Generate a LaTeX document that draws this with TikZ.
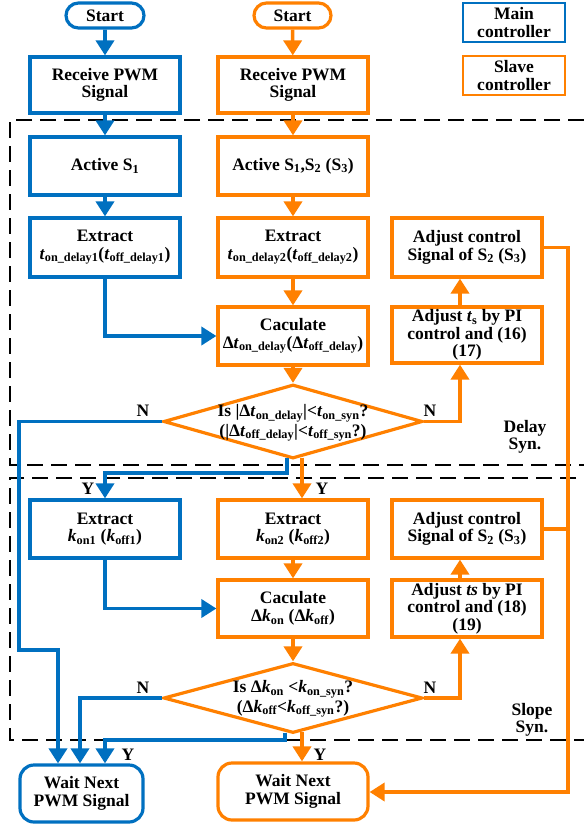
\documentclass[tikz,border=0pt]{standalone}
\usepackage{fontspec}
\setmainfont{Liberation Serif}
\usetikzlibrary{arrows.meta,shapes.geometric,shapes.misc}
\definecolor{mblue}{RGB}{0,112,192}
\definecolor{morange}{RGB}{255,128,0}
\newcommand\vt{\textit{t}}
\newcommand\vk{\textit{k}}
\newcommand\sbs[1]{\textsubscript{#1}}
\begin{document}
\begin{tikzpicture}[x=1pt,y=-1pt,
  every node/.style={font=\fontsize{17.5}{17.5}\selectfont\bfseries, align=center, inner sep=0pt},
  box/.style={draw, line width=3.2pt, fill=white, minimum width=150pt, minimum height=58pt},
  bbox/.style={box, draw=mblue},
  obox/.style={box, draw=morange},
  term/.style={rounded rectangle, draw, line width=3.2pt, fill=white, minimum height=25pt},
  waitbox/.style={draw, line width=3.2pt, fill=white, rounded corners=14pt, minimum height=57pt},
  decision/.style={diamond, draw=morange, line width=3.2pt, inner sep=0pt},
  legend/.style={draw, line width=2.8pt, fill=white, minimum width=102pt, minimum height=39pt},
  bflow/.style={draw=mblue, line width=3.6pt},
  oflow/.style={draw=morange, line width=3.6pt},
  arr/.style={-{Triangle[length=15pt,width=18pt]}},
  region/.style={draw=black, line width=2.4pt, dash pattern=on 16pt off 8pt},
  tag/.style={font=\fontsize{17.5}{17.5}\selectfont\bfseries}
]
\useasboundingbox (0,0) rectangle (584,828);

% synchronisation regions
\draw[region] (584,120) -- (10,120) -- (10,465) -- (584,465);
\draw[region] (576,478) -- (10,478) -- (10,740) -- (584,740);
\node (delaysyn) at (525,437) {Delay\\Syn.};
\node (slopesyn) at (532,720) {Slope\\Syn.};

% legend
\node[legend, draw=mblue] (legmain) at (514,22.5) {Main\\controller};
\node[legend, draw=morange] (legslave) at (514,75.5) {Slave\\controller};

% main controller column
\node[term, draw=mblue, minimum width=78pt] (bstart) at (105,15.5) {Start};
\node[bbox, minimum height=56pt] (brecv) at (105,85) {Receive PWM\\Signal};
\node[bbox] (bact) at (105,166) {Active S\sbs{1}};
\node[bbox, minimum height=59pt] (bext1) at (105,247.5) {Extract\\\vt\sbs{on\_delay1}(\vt\sbs{off\_delay1})};
\node[bbox] (bext2) at (105,529) {Extract\\\vk\sbs{on1} (\vk\sbs{off1})};
\node[waitbox, draw=mblue, minimum width=123pt] (bwait) at (81.5,793.5) {Wait Next\\PWM Signal};

% slave controller column
\node[term, draw=morange, minimum width=77pt] (ostart) at (292.5,15.5) {Start};
\node[obox, minimum height=56pt] (orecv) at (293,85) {Receive PWM\\Signal};
\node[obox] (oact) at (293,166) {Active S\sbs{1},S\sbs{2} (S\sbs{3})};
\node[obox, minimum height=59pt] (oext1) at (293,247.5) {Extract\\\vt\sbs{on\_delay2}(\vt\sbs{off\_delay2})};
\node[obox] (ocalc1) at (293,336) {Caculate\\Δ\vt\sbs{on\_delay}(Δ\vt\sbs{off\_delay})};
\node[decision, minimum width=259pt, minimum height=74pt] (dec1) at (293,421.5) {};
\node (dec1txt) at (293,423) {Is |Δ\vt\sbs{on\_delay}|<\vt\sbs{on\_syn}?\\[2pt](|Δ\vt\sbs{off\_delay}|<\vt\sbs{off\_syn}?)};
\node[obox] (oext2) at (293,529) {Extract\\\vk\sbs{on2} (\vk\sbs{off2})};
\node[obox, minimum height=57pt] (ocalc2) at (293,608.5) {Caculate\\Δ\vk\sbs{on} (Δ\vk\sbs{off})};
\node[decision, minimum width=259pt, minimum height=70pt] (dec2) at (293,698) {};
\node (dec2txt) at (293,699) {Is Δ\vk\sbs{on} <\vk\sbs{on\_syn}?\\[2pt](Δ\vk\sbs{off}<\vk\sbs{off\_syn}?)};
\node[waitbox, draw=morange, minimum width=150pt] (owait) at (293,791.5) {Wait Next\\PWM Signal};

% adjustment column
\node[obox, minimum height=59pt] (oadj1) at (467,247.5) {Adjust control\\Signal of S\sbs{2} (S\sbs{3})};
\node[obox, minimum height=56pt] (opi1) at (467,335) {Adjust \vt\sbs{s} by PI\\control and (16)\\(17)};
\node[obox] (oadj2) at (467,529) {Adjust control\\Signal of S\sbs{2} (S\sbs{3})};
\node[obox, minimum height=57pt] (opi2) at (467,608.5) {Adjust \textit{ts} by PI\\control and (18)\\(19)};

% main controller flow
\draw[bflow, arr] (bstart) -- (brecv);
\draw[bflow, arr] (brecv) -- (bact);
\draw[bflow, arr] (bact) -- (bext1);
\draw[bflow, arr] (bext1.south) |- (ocalc1.west);
\draw[bflow, arr] ([xshift=-6pt,yshift=1.7pt]dec1.south) -- (287,473) -- (105,473) -- (bext2.north);
\draw[bflow, arr] (bext2.south) |- (ocalc2.west);
\draw[bflow, arr] (dec1.west) -- (19,421.5) -- (19,650) -- (58,650) -- ([xshift=-23.5pt]bwait.north);
\draw[bflow, arr] (dec2.west) -- (80,698) -- ([xshift=-1.5pt]bwait.north);
\draw[bflow, arr] ([xshift=-8pt,yshift=2pt]dec2.south) -- (285,740) -- (105,740) -- ([xshift=23.5pt]bwait.north);

% slave controller flow
\draw[oflow, arr] (ostart) -- (orecv);
\draw[oflow, arr] (orecv) -- (oact);
\draw[oflow, arr] (oact) -- (oext1);
\draw[oflow, arr] (oext1) -- (ocalc1);
\draw[oflow, arr] (ocalc1) -- (dec1.north);
\draw[oflow, arr] ([xshift=9pt,yshift=2.5pt]dec1.south) -- ([xshift=9pt]oext2.north);
\draw[oflow, arr] (oext2) -- (ocalc2);
\draw[oflow, arr] (ocalc2) -- (dec2.north);
\draw[oflow, arr] ([xshift=9pt,yshift=2.5pt]dec2.south) -- ([xshift=9pt]owait.north);
\draw[oflow, arr] (dec1.east) -- (460,421.5) -- ([xshift=-7pt]opi1.south);
\draw[oflow, arr] ([xshift=-7pt]opi1.north) -- ([xshift=-7pt]oadj1.south);
\draw[oflow, arr] (dec2.east) -- (460,698) -- ([xshift=-7pt]opi2.south);
\draw[oflow, arr] ([xshift=-7pt]opi2.north) -- ([xshift=-7pt]oadj2.south);
\draw[oflow, arr] (oadj1.east) -- (568,247.5) -- (568,792) -- (owait.east |- 0,792);
\draw[oflow] (oadj2.east) -- (568,529);

% branch labels
\node[tag] (n1l) at (143,411) {N};
\node[tag] (n1r) at (430,411) {N};
\node[tag] (y1l) at (88,489) {Y};
\node[tag] (y1r) at (322,489) {Y};
\node[tag] (n2l) at (143,688) {N};
\node[tag] (n2r) at (430,688) {N};
\node[tag] (y2l) at (128,755) {Y};
\node[tag] (y2r) at (320,755) {Y};
\end{tikzpicture}
\end{document}
